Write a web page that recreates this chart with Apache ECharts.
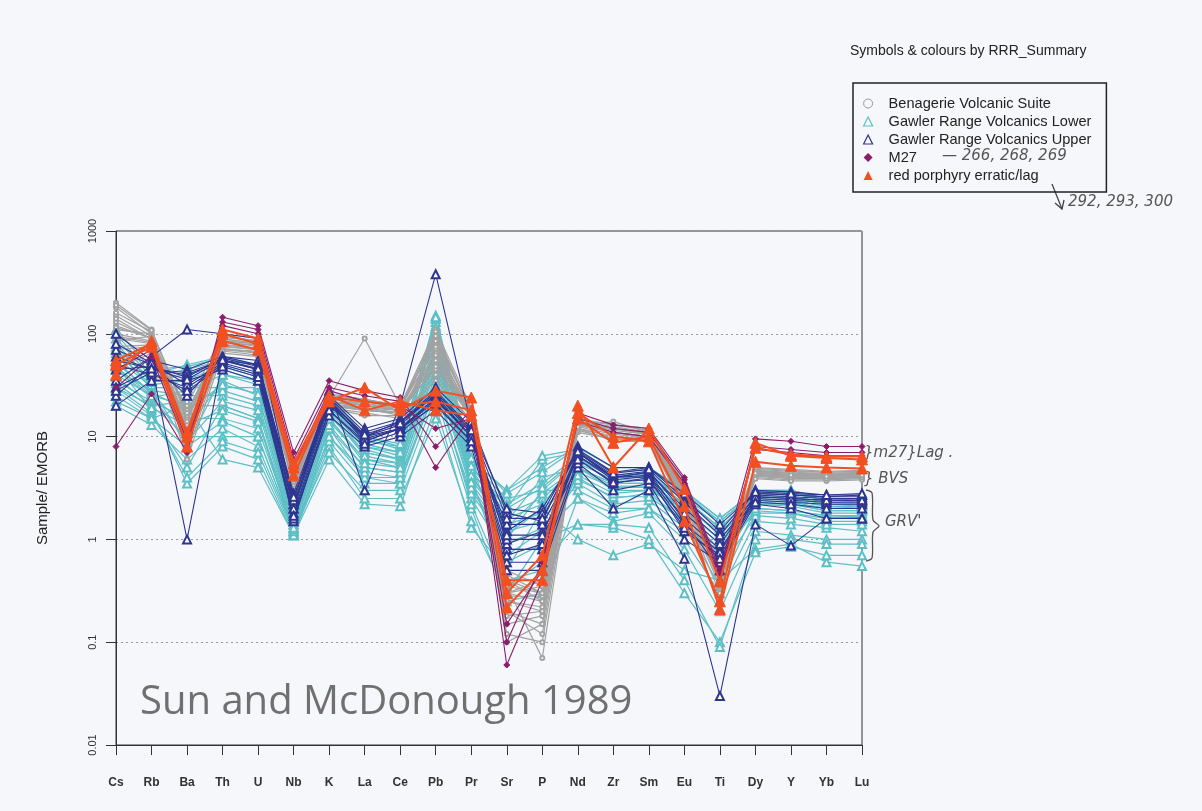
<!DOCTYPE html>
<html>
<head>
<meta charset="utf-8">
<script src="https://cdn.jsdelivr.net/npm/echarts@6/dist/echarts.min.js"></script>
<style>
  html, body { margin: 0; padding: 0; background: #f6f7fa; }
  #main { width: 1202px; height: 811px; }
</style>
</head>
<body>
<div id="main"></div>
<script>
// element order on the x axis
var elements = ['Cs','Rb','Ba','Th','U','Nb','K','La','Ce','Pb','Pr','Sr','P','Nd','Zr','Sm','Eu','Ti','Dy','Y','Yb','Lu'];
var yTicks = [0.01, 0.1, 1, 10, 100, 1000];

// each row = one sample, normalised to EMORB
var gawlerLower = [
  [100,40,50,60,50,2,25,10,8,150,6,3,5,8,5,5,3,1.6,3,3,2.5,2.5],
  [60,30,30,30,30,1.5,20,8,7,120,5,2,6,7,4,4,2.5,1.5,2.8,2.8,2.4,2.4],
  [40,25,20,20,15,1.3,15,6,5,60,4,1.5,4,5,3,3,2,1.2,2.2,2.2,2,2],
  [30,20,10,10,10,1.2,10,4,4,40,3,1,3,3,2,2,1.2,0.8,1.8,1.8,1.5,1.5],
  [25,15,20,6,5,1.1,6,2.2,2.1,20,1.3,0.5,2,1,0.7,0.9,0.5,0.4,0.8,0.9,0.6,0.55],
  [50,18,3.5,8,6,1.1,8,2.5,2.5,15,1.5,0.3,1,1.4,1.3,1.0,0.3,0.1,0.75,0.85,0.7,0.7],
  [80,35,40,50,40,1.8,22,9,8,100,5.5,2.5,3,6,4,4.5,2.5,1.3,2.6,2.6,2.2,2.2],
  [45,28,25,25,20,1.4,18,7,6,80,4.5,1.8,2.5,5,3.5,3.5,2,1,2.4,2.3,2,2],
  [35,22,15,15,12,1.3,12,5,4.5,50,3.5,1.2,1.5,4,2.5,2.8,1.5,0.6,2,1.9,1.7,1.7],
  [70,30,8,40,35,1.6,20,8,6.5,130,5,0.8,0.8,6,4,4,1.8,0.8,2.5,2.4,2.1,2.1],
  [20,13,6,12,8,1.2,7,3,3,25,2,0.25,0.3,2.5,1.5,1.8,0.8,0.2,1.2,1.1,1,1],
  [55,26,12,35,25,1.5,16,7,6,70,4,0.4,0.5,5,3.5,3.5,1.5,0.5,2.3,2.2,1.9,1.9],
  [90,38,45,55,45,1.9,24,9.5,7.5,140,5.8,3,6.5,7.5,4.5,4.8,2.8,1.5,2.9,2.9,2.4,2.3],
  [30,17,4,9,7,1.15,9,3.5,3.5,30,2.5,0.7,1.2,2.5,1.8,2,1,0.3,1.5,1.4,1.3,1.2],
  [65,32,35,45,35,1.7,21,8.5,7,110,5,2.2,3.5,6.5,4,4.2,2.2,1.1,2.6,2.5,2.2,2.1],
  [28,16,5,20,15,1.1,12,4,3.5,35,2.2,0.35,0.6,1.4,1.4,1.3,0.4,0.09,1.0,1.0,0.9,0.9],
  [45,24,28,40,32,1.5,19,7.5,6,90,4.8,1.6,2.2,5.5,3.8,3.8,2.2,1.1,2.5,2.4,2.1,2.0],
  [38,20,22,28,22,1.4,14,6,5.5,65,3.8,1.4,1.8,4.5,3.2,3.2,1.8,0.9,2.2,2.1,1.8,1.8],
  [110,45,48,58,50,2,26,10,8.5,145,6.2,2.8,4.5,7.8,5,5,2.9,1.6,3,3,2.5,2.4],
  [22,15,8,14,10,1.2,10,4.5,4,28,2.8,0.9,1.3,3.5,2.2,2.4,1.3,0.5,1.7,1.6,1.4,1.4],
  [52,27,18,32,26,1.5,17,6.5,5.5,75,4.2,1.3,2.8,5,3.3,3.3,1.9,1.0,2.3,2.2,1.9,1.9],
  [33,19,13,18,14,1.25,13,5,4.5,45,3.2,1.1,2,3.8,2.6,2.6,1.5,0.7,1.9,1.8,1.6,1.6],
  [75,34,36,48,38,1.7,21,8.5,7,115,5.2,2.0,3.2,6.2,4.2,4.3,2.4,1.3,2.7,2.6,2.3,2.2],
  [48,25,9,22,18,1.3,15,5.5,5,55,3.6,0.6,0.9,4.2,2.8,3,1.4,0.35,2.0,1.9,1.7,1.65]
];
var benagerie = [
  [200,110,15,90,80,4.5,25,22,19,90,18,0.3,0.25,14,12,11,3,0.5,4.8,4.6,4.5,4.6],
  [180,100,12,85,75,4,22,20,18,100,17,0.25,0.2,13,11,10,2.8,0.45,4.6,4.4,4.3,4.4],
  [150,95,10,80,70,4,24,90,20,70,16,0.35,0.07,13,14,11,3.2,0.4,4.5,4.2,4.2,4.3],
  [120,90,18,75,70,3.8,20,18,17,60,15,0.4,0.3,12,10,9.5,2.5,0.5,4.3,4.0,4.0,4.1],
  [100,85,9,70,65,3.5,21,19,16,80,16,0.2,0.15,12,9,9,2.2,0.35,4.2,4.0,3.9,4.0],
  [90,80,14,95,85,4.2,23,21,19,50,17,0.5,0.35,14,12,10.5,3,0.6,4.7,4.5,4.4,4.5],
  [70,75,6,65,60,3.2,19,17,15,40,14,0.15,0.18,11,9.5,9,2,0.3,4.0,3.8,3.8,3.9],
  [60,70,20,100,90,4.6,26,23,20,110,19,0.3,0.4,15,13,12,3.5,0.55,5.0,4.8,4.6,4.7],
  [130,90,11,85,80,4,22,19,18,65,16,0.25,0.22,13,11,10,2.7,0.4,4.4,4.2,4.1,4.2],
  [110,100,8,78,72,3.7,20,18,17,55,15,0.1,0.15,12,10,9.5,2.4,0.45,4.1,3.9,3.9,4.0],
  [45,65,13,70,68,3.5,24,20,18,45,16,0.45,0.3,13,11,10,2.6,0.5,4.3,4.1,4.0,4.1],
  [160,105,16,88,82,4.3,21,22,19,75,17,0.2,0.12,14,12.5,11,3.1,0.42,4.6,4.4,4.3,4.4],
  [85,95,12,82,78,3.9,23,21,18,95,17,0.28,0.28,13.5,11.5,10.5,2.9,0.48,4.5,4.3,4.2,4.3],
  [140,88,7,72,66,3.4,19,16,16,35,14,0.18,0.2,11.5,9.5,9,2.3,0.38,3.9,3.7,3.7,3.8],
  [190,108,17,92,86,4.4,25,23,20,85,18,0.35,0.3,14.5,13,11.5,3.3,0.52,4.9,4.7,4.5,4.6],
  [75,78,10,68,62,3.6,21,18,17,48,15,0.12,0.1,12,10,9.2,2.5,0.42,4.2,4.0,3.9,4.0],
  [115,92,14,86,80,4.1,22,20,19,105,17,0.4,0.25,13,12,10.8,2.9,0.5,4.6,4.4,4.3,4.4],
  [95,82,9,76,70,3.8,20,19,17,62,16,0.3,0.35,12.5,10.5,9.8,2.6,0.46,4.4,4.2,4.1,4.2]
];
var gawlerUpper = [
  [35,60,110,100,90,2.2,22,10,14,25,10,0.8,0.8,7,4,4.5,1.5,0.5,2.8,2.7,2.6,2.6],
  [25,50,1,55,45,1.5,18,9,12,20,9,0.6,0.6,6,3.5,4,1.2,0.7,2.4,2.3,2.2,2.2],
  [60,45,40,55,50,2,28,3,20,380,13,0.9,1.2,5,2,3,0.65,0.03,1.4,0.87,1.6,1.6],
  [100,55,45,60,55,2.5,25,12,15,30,14,1.8,1.5,8,5,5,2.5,1.2,3,2.9,2.7,2.7],
  [50,40,30,50,40,1.8,20,10,12,22,11,1.2,2,7,4,4.5,2,1,2.6,2.5,2.4,2.4],
  [20,35,35,45,35,1.6,16,8,10,18,8,0.5,0.5,5.5,3,3.5,1,0.6,2.2,2.0,1.6,1.6],
  [70,50,25,60,50,2.8,24,11,14,28,12,2,1.8,7.5,4.5,5,2.8,1.4,2.8,2.7,2.6,2.7],
  [30,45,42,55,45,2.2,22,9,12,24,10,1,1,6.5,4,4.2,1.6,0.8,2.5,2.4,2.3,2.3],
  [45,48,38,58,48,2.4,23,10,13,26,11,1.1,1.1,7,4.2,4.6,1.8,0.9,2.7,2.6,2.5,2.5],
  [80,52,32,52,42,2.0,21,9.5,12,23,10,0.7,0.9,6.5,3.8,4.1,1.4,0.75,2.6,2.5,2.4,2.4],
  [28,42,28,48,38,1.7,18,8.5,11,21,9,1.4,1.4,6,3.6,3.8,1.3,0.65,2.3,2.2,2.0,2.0],
  [55,46,36,56,46,2.6,22,10.5,13.5,27,11.5,1.6,1.6,7.2,4.4,4.8,2.3,1.1,2.9,2.8,2.7,2.8]
];
var m27 = [
  [8,26,7,145,120,7,35,28,24,8,18,0.06,0.4,17,13,12,4,0.5,9.5,9,8,8],
  [30,60,8,130,110,6,30,25,22,5,16,0.1,0.6,15,12,11,3.8,0.45,8,7.5,7,7],
  [45,70,9,120,100,5,28,22,20,12,15,0.15,0.5,14,11,10,3.5,0.4,7.5,7,6.5,6.5]
];
var redPorphyry = [
  [55,80,10,100,80,5,22,30,18,28,24,0.3,0.7,20,5,12,3.1,0.39,7.8,6.7,6.4,6.4],
  [50,75,8,85,70,4.2,24,22,20,22,18,0.22,0.5,15,8.7,10,2.1,0.21,5.7,5.2,5.0,4.9],
  [40,85,11,110,90,5.5,25,18,22,18,16,0.4,0.4,17,10,9,1.5,0.25,8.7,6.5,6.2,6.0]
];

var chart = echarts.init(document.getElementById('main'));

function makeSeries(name, rows, color, symbol, size, width, z) {
  return rows.map(function (row) {
    return {
      name: name,
      type: 'line',
      data: row,
      symbol: symbol,
      symbolSize: size,
      showAllSymbol: true,
      lineStyle: { color: color, width: width },
      itemStyle: { color: color, borderColor: color },
      z: z,
      emphasis: { disabled: true }
    };
  });
}

var series = [].concat(
  makeSeries('Gawler Range Volcanics Lower', gawlerLower, '#5cbfc6', 'emptyTriangle', 8, 1.2, 2),
  makeSeries('Benagerie Volcanic Suite', benagerie, '#a2a2a2', 'emptyCircle', 4, 1.2, 3),
  makeSeries('Gawler Range Volcanics Upper', gawlerUpper, '#2e3590', 'emptyTriangle', 8, 1.1, 4),
  makeSeries('M27', m27, '#8b1d6a', 'diamond', 6, 1.1, 5),
  makeSeries('red porphyry erratic/lag', redPorphyry, '#f24f22', 'triangle', 11, 2, 6)
);

var hand = 'italic 15px "DejaVu Sans", sans-serif';

var option = {
  backgroundColor: '#f6f7fa',
  animation: false,
  grid: {
    left: 116, top: 231, right: 340, bottom: 66,
    show: true, borderColor: '#333', borderWidth: 1, backgroundColor: 'transparent'
  },
  legend: {
    orient: 'vertical',
    left: 853, top: 83,
    padding: [13, 15, 9, 10],
    itemGap: 3,
    itemWidth: 9, itemHeight: 9,
    borderColor: '#222', borderWidth: 1.5,
    selectedMode: false,
    textStyle: { fontSize: 14.6, fontFamily: 'Liberation Sans, Arial, sans-serif', color: '#222', padding: [0, 0, 0, 11] },
    data: [
      { name: 'Benagerie Volcanic Suite', icon: 'circle', itemStyle: { color: 'transparent', borderColor: '#999', borderWidth: 1 } },
      { name: 'Gawler Range Volcanics Lower', icon: 'triangle', itemStyle: { color: 'transparent', borderColor: '#5cbfc6', borderWidth: 1.2 } },
      { name: 'Gawler Range Volcanics Upper', icon: 'triangle', itemStyle: { color: 'transparent', borderColor: '#2e3590', borderWidth: 1.2 } },
      { name: 'M27', icon: 'diamond', itemStyle: { color: '#8b1d6a', borderWidth: 0 } },
      { name: 'red porphyry erratic/lag', icon: 'triangle', itemStyle: { color: '#f24f22', borderWidth: 0 } }
    ]
  },
  xAxis: {
    type: 'category',
    data: elements,
    boundaryGap: false,
    axisLine: { lineStyle: { color: '#333', width: 1 } },
    axisTick: { show: true, interval: 0, length: 10, lineStyle: { color: '#333' } },
    axisLabel: {
      interval: 0, margin: 32, fontSize: 12, fontWeight: 'bold',
      fontFamily: '"Liberation Sans Narrow", "Liberation Sans", Arial, sans-serif',
      color: '#333'
    },
    splitLine: { show: false }
  },
  yAxis: {
    type: 'log',
    logBase: 10,
    min: yTicks[0],
    max: yTicks[yTicks.length - 1],
    name: 'Sample/ EMORB',
    nameLocation: 'middle',
    nameGap: 66,
    nameRotate: 90,
    nameTextStyle: { fontSize: 15, fontFamily: 'Liberation Sans, Arial, sans-serif', color: '#222' },
    axisLine: { show: true, lineStyle: { color: '#333' } },
    axisTick: { show: true, length: 10, lineStyle: { color: '#333' } },
    axisLabel: {
      rotate: 90, margin: 18, fontSize: 11, color: '#333',
      fontFamily: 'Liberation Sans, Arial, sans-serif',
      formatter: function (v) { return String(+v.toPrecision(3)); }
    },
    splitLine: { show: true, lineStyle: { color: '#999', type: [2, 3], width: 1 } }
  },
  graphic: [
    { type: 'text', left: 850, top: 44,
      style: { text: 'Symbols & colours by RRR_Summary', font: '14px "Liberation Sans", Arial, sans-serif', fill: '#222' } },
    { type: 'text', left: 140, top: 683,
      style: { text: 'Sun and McDonough 1989', font: '40px "Open Sans", sans-serif', fill: '#707070' } },
    { type: 'text', left: 942, top: 149,
      style: { text: '— 266, 268, 269', font: hand, fill: '#555' } },
    { type: 'line', shape: { x1: 1052, y1: 184, x2: 1062, y2: 209 }, style: { stroke: '#444', lineWidth: 1.3 } },
    { type: 'polyline', shape: { points: [[1055, 203], [1062, 209], [1064, 200]] }, style: { stroke: '#444', lineWidth: 1.3, fill: null } },
    { type: 'text', left: 1068, top: 195,
      style: { text: '292, 293, 300', font: hand, fill: '#555' } },
    { type: 'text', left: 864, top: 446,
      style: { text: '}m27}Lag .', font: hand, fill: '#555' } },
    { type: 'text', left: 864, top: 472,
      style: { text: '} BVS', font: hand, fill: '#555' } },
    { type: 'polyline',
      shape: { points: [[866, 490], [872, 493], [873, 520], [879, 526], [873, 532], [872, 558], [866, 561]], smooth: 0.3 },
      style: { stroke: '#555', lineWidth: 1.3, fill: null } },
    { type: 'text', left: 885, top: 515,
      style: { text: "GRV'", font: hand, fill: '#555' } }
  ],
  series: series
};

chart.setOption(option);
</script>
</body>
</html>
